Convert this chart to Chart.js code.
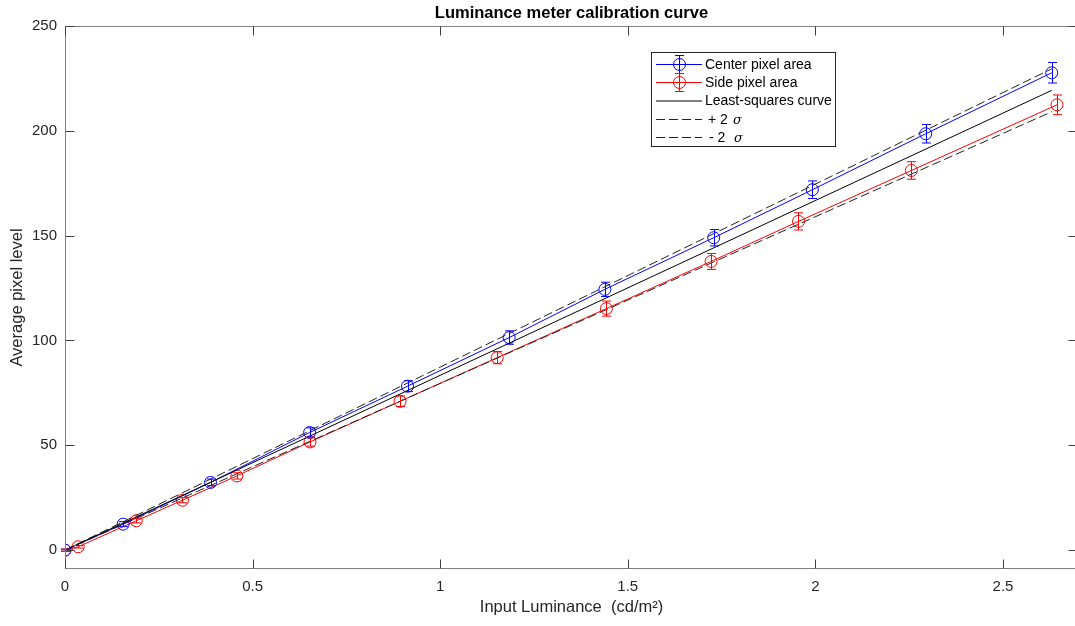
<!DOCTYPE html>
<html>
<head>
<meta charset="utf-8">
<script src="https://cdn.jsdelivr.net/npm/chart.js@4.4.0/dist/chart.umd.min.js"></script>
<style>
html,body{margin:0;padding:0;background:#fff;overflow:hidden;}
canvas{display:block;}
</style>
</head>
<body>
<canvas id="chart" width="1085" height="626"></canvas>
<script>
// measured points, center pixel area
const centerX=[0,0.155,0.388,0.652,0.913,1.184,1.439,1.729,1.992,2.294,2.630];
const centerY=[0,12.4,32.3,56.1,78.2,101.4,124.4,149.0,171.9,198.6,227.7];
const centerErr=[0.5,1.2,1.6,2.2,2.6,3.2,3.4,3.9,4.2,4.4,4.9];
// side pixel area
const sideX=[0,0.035,0.190,0.313,0.458,0.653,0.893,1.152,1.443,1.722,1.955,2.256,2.644];
const sideY=[0,1.6,14.0,23.8,35.4,51.6,71.0,91.8,115.2,137.7,156.8,181.1,212.4];
const sideErr=[0.5,0.6,1.0,1.2,1.5,2.0,2.5,2.9,3.6,3.8,4.1,4.2,4.7];
// fit lines
const fitX=[0,2.63];
const fitY=[0,219.3];
const plusY=[0,229.6];
const minusY=[0,209.1];
const xTicks=[0,0.5,1,1.5,2,2.5];
const yTicks=[0,50,100,150,200,250];

const FONT="'Liberation Sans', Arial, sans-serif";
const BLUE="#0000ff", RED="#ff0000", DASH=[9,4];
const pts=(xs,ys)=>xs.map((v,i)=>({x:v,y:ys[i]}));

function drawErr(ctx,x,y,xs,ys,es,color){
  ctx.save();
  ctx.strokeStyle=color;ctx.lineWidth=1;
  xs.forEach((v,i)=>{
    const px=Math.round(x.getPixelForValue(v))+0.5;
    const top=y.getPixelForValue(ys[i]+es[i]);
    const bot=y.getPixelForValue(ys[i]-es[i]);
    ctx.beginPath();
    ctx.moveTo(px,top);ctx.lineTo(px,bot);
    ctx.moveTo(px-4.5,top);ctx.lineTo(px+4.5,top);
    ctx.moveTo(px-4.5,bot);ctx.lineTo(px+4.5,bot);
    ctx.stroke();
  });
  ctx.restore();
}

const errorBars={
  id:"errorBars",
  afterDatasetsDraw(chart){
    const {ctx,scales:{x,y}}=chart;
    drawErr(ctx,x,y,centerX,centerY,centerErr,BLUE);
    drawErr(ctx,x,y,sideX,sideY,sideErr,RED);
  }
};

const frame={
  id:"frame",
  afterDraw(chart){
    const {ctx,chartArea:a,scales:{x,y}}=chart;
    ctx.save();
    ctx.strokeStyle="#808080";ctx.lineWidth=1;
    const l=Math.round(a.left)+0.5,r=Math.round(a.right)-0.5,t=Math.round(a.top)+0.5,b=Math.round(a.bottom)-0.5;
    ctx.strokeRect(l,t,r-l,b-t);
    ctx.strokeStyle="#404040";
    ctx.beginPath();
    xTicks.forEach(v=>{
      const px=Math.round(x.getPixelForValue(v))+0.5;
      ctx.moveTo(px,b);ctx.lineTo(px,b-9);
      ctx.moveTo(px,t);ctx.lineTo(px,t+9);
    });
    yTicks.forEach(v=>{
      const py=Math.round(y.getPixelForValue(v))+0.5;
      ctx.moveTo(l,py);ctx.lineTo(l+9,py);
      ctx.moveTo(r,py);ctx.lineTo(r-9,py);
    });
    ctx.stroke();
    ctx.restore();
  }
};

const legendBox={
  id:"legendBox",
  afterDraw(chart){
    const ctx=chart.ctx;
    ctx.save();
    ctx.fillStyle="#fff";
    ctx.fillRect(651,52,185,95);
    ctx.strokeStyle="#262626";ctx.lineWidth=1;
    ctx.strokeRect(651.5,52.5,184,94);
    const rows=[64,82,100.5,119,137];
    const x0=656,x1=702,tx=705;
    ctx.lineWidth=1;
    // marker entries
    [[BLUE,"Center pixel area"],[RED,"Side pixel area"]].forEach((e,i)=>{
      const yy=rows[i]+0.5;
      ctx.strokeStyle=e[0];
      ctx.beginPath();ctx.moveTo(x0,yy);ctx.lineTo(x1,yy);ctx.stroke();
      ctx.beginPath();ctx.arc(679.5,yy,6,0,Math.PI*2);ctx.stroke();
      ctx.beginPath();
      ctx.moveTo(679.5,yy-9);ctx.lineTo(679.5,yy+9);
      ctx.moveTo(675,yy-9);ctx.lineTo(684,yy-9);
      ctx.moveTo(675,yy+9);ctx.lineTo(684,yy+9);
      ctx.stroke();
    });
    ctx.strokeStyle="#000";
    ctx.beginPath();ctx.moveTo(x0,rows[2]+0.5);ctx.lineTo(x1,rows[2]+0.5);ctx.stroke();
    ctx.strokeStyle="#222";ctx.setLineDash(DASH);
    [rows[3],rows[4]].forEach(yy=>{
      ctx.beginPath();ctx.moveTo(x0,yy+0.5);ctx.lineTo(x1,yy+0.5);ctx.stroke();
    });
    ctx.setLineDash([]);
    ctx.fillStyle="#000";ctx.textBaseline="middle";ctx.textAlign="left";
    ctx.font="14px "+FONT;
    ctx.fillText("Center pixel area",tx,rows[0]+1);
    ctx.fillText("Side pixel area",tx,rows[1]+1);
    ctx.fillText("Least-squares curve",tx,rows[2]+1);
    ctx.fillText("+ 2",708,rows[3]+1);
    ctx.fillText("- 2",709,rows[4]+1);
    ctx.font="italic 13px 'DejaVu Serif', serif";
    ctx.fillText("\u03c3",733,rows[3]+2);
    ctx.fillText("\u03c3",734,rows[4]+2);
    ctx.restore();
  }
};

const lineDs=(label,xs,ys,color,dash)=>({
  label:label,data:pts(xs,ys),borderColor:color,borderWidth:1,
  borderDash:dash||[],pointRadius:0,fill:false,tension:0
});
const markDs=(label,xs,ys,color)=>({
  label:label,data:pts(xs,ys),borderColor:color,borderWidth:1,
  pointStyle:"circle",pointRadius:6,pointBorderWidth:1,pointBorderColor:color,
  pointBackgroundColor:"rgba(0,0,0,0)",fill:false,tension:0
});

new Chart(document.getElementById("chart").getContext("2d"),{
  type:"line",
  data:{
    datasets:[
      lineDs("Least-squares curve",fitX,fitY,"#000"),
      lineDs("+ 2 sigma",fitX,plusY,"#222",DASH),
      lineDs("- 2 sigma",fitX,minusY,"#222",DASH),
      markDs("Center pixel area",centerX,centerY,BLUE),
      markDs("Side pixel area",sideX,sideY,RED)
    ]
  },
  options:{
    responsive:false,
    animation:false,
    layout:{padding:{left:0,right:5,top:0,bottom:0}},
    plugins:{
      legend:{display:false},
      tooltip:{enabled:false},
      title:{
        display:true,fullSize:false,
        text:"Luminance meter calibration curve",
        color:"#000",
        font:{family:FONT,size:16.5,weight:"bold"},
        padding:{top:4,bottom:2.2}
      }
    },
    scales:{
      x:{
        type:"linear",min:0,max:2.7,
        grid:{display:false,drawTicks:false},
        border:{display:false},
        afterBuildTicks:s=>{s.ticks=xTicks.map(v=>({value:v}));},
        afterFit:s=>{s.height=57;},
        ticks:{color:"#262626",padding:9,maxRotation:0,font:{family:FONT,size:15},callback:v=>String(v)},
        title:{display:true,text:"Input Luminance  (cd/m\u00b2)",color:"#262626",
          font:{family:FONT,size:16.5},padding:{top:0,bottom:9}}
      },
      y:{
        min:-9,max:250,
        grid:{display:false,drawTicks:false},
        border:{display:false},
        afterBuildTicks:s=>{s.ticks=yTicks.map(v=>({value:v}));},
        afterFit:s=>{s.width=65;},
        ticks:{color:"#262626",padding:8,font:{family:FONT,size:15},callback:v=>String(v)},
        title:{display:true,text:"Average pixel level",color:"#262626",
          font:{family:FONT,size:16.5},padding:{top:8,bottom:0}}
      }
    }
  },
  plugins:[errorBars,frame,legendBox]
});
</script>
</body>
</html>
